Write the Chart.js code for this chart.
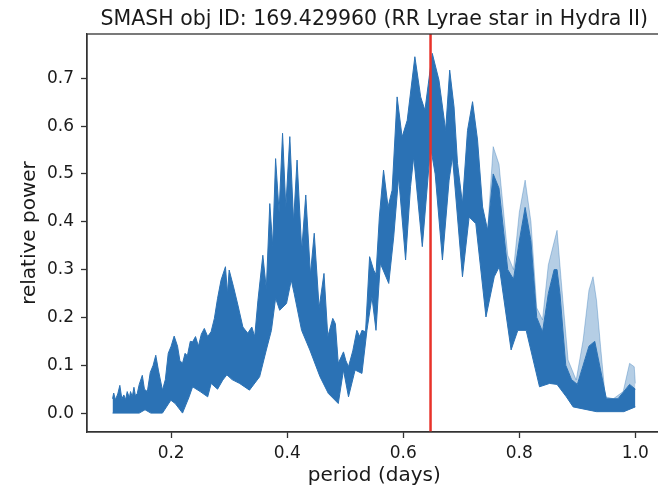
<!DOCTYPE html>
<html>
<head>
<meta charset="utf-8">
<script src="https://cdn.jsdelivr.net/npm/chart.js@4.4.1/dist/chart.umd.min.js"></script>
<style>
  html, body { margin: 0; padding: 0; background: #fff; overflow: hidden; }
  #wrap { width: 662px; height: 492px; }
</style>
</head>
<body>
<div id="wrap"><canvas id="grafico" width="662" height="492"></canvas></div>
<script>
// ===== dados =====
const xTicks = [0.2, 0.4, 0.6, 0.8, 1.0];
const yTicks = [0.0, 0.1, 0.2, 0.3, 0.4, 0.5, 0.6, 0.7];
const periodoMarcado = 0.647;

// envelope superior (faixa escura)
const superiorX = [0.099, 0.101, 0.104, 0.108, 0.1116, 0.1150, 0.1185, 0.1215, 0.1243, 0.1280, 0.1300, 0.1330,
  0.1359, 0.1385, 0.1416, 0.1450, 0.1503, 0.1540, 0.1590, 0.1640, 0.1690, 0.1735, 0.1780, 0.1850,
  0.1900, 0.1950, 0.2000, 0.2052, 0.2110, 0.2150, 0.2196, 0.2240, 0.2280, 0.2330, 0.2370, 0.2420, 0.2470,
  0.2520, 0.2572, 0.2630, 0.2688, 0.2745, 0.2800, 0.2860, 0.2936, 0.2970, 0.3000,
  0.3075, 0.3150, 0.3236, 0.3320, 0.3390, 0.3440, 0.3496, 0.3580, 0.3640, 0.3700, 0.3750, 0.3800, 0.3860,
  0.3920, 0.3976, 0.4045, 0.4110, 0.4170, 0.4250, 0.4320, 0.4400, 0.4466, 0.4550, 0.4634, 0.4700, 0.4785,
  0.4830, 0.4880, 0.4970, 0.5010, 0.5056, 0.5130, 0.5200, 0.5250, 0.5288, 0.5350, 0.5420, 0.5490, 0.5530,
  0.5588, 0.5660, 0.5738, 0.5808, 0.5894, 0.5980, 0.6068, 0.6200, 0.6300, 0.6373, 0.6500, 0.6615, 0.6730,
  0.6800, 0.6875, 0.6935, 0.7020, 0.7107, 0.7194, 0.7280, 0.7367, 0.7454, 0.7550, 0.7650, 0.7800, 0.7900,
  0.8000, 0.8100, 0.8200, 0.8300, 0.8400, 0.8500, 0.8600, 0.8650, 0.8700, 0.8800, 0.8900, 0.9000, 0.9100,
  0.9200, 0.9300, 0.9400, 0.9500, 0.9700, 0.9900, 1.0000];
const superiorY = [0.030, 0.042, 0.028, 0.040, 0.058, 0.030, 0.038, 0.028, 0.045, 0.032, 0.045, 0.034,
  0.054, 0.036, 0.041, 0.060, 0.079, 0.050, 0.045, 0.085, 0.100, 0.121, 0.090, 0.048,
  0.070, 0.125, 0.140, 0.161, 0.140, 0.110, 0.104, 0.125, 0.120, 0.150, 0.149, 0.160, 0.140,
  0.165, 0.177, 0.160, 0.170, 0.198, 0.240, 0.278, 0.306, 0.250, 0.299,
  0.264, 0.226, 0.180, 0.167, 0.180, 0.160, 0.236, 0.330, 0.260, 0.438, 0.350, 0.532, 0.420,
  0.585, 0.430, 0.578, 0.400, 0.529, 0.340, 0.456, 0.290, 0.376, 0.220, 0.292, 0.160, 0.198,
  0.187, 0.104, 0.128, 0.110, 0.097, 0.130, 0.173, 0.160, 0.173, 0.170, 0.327, 0.299, 0.290,
  0.410, 0.508, 0.431, 0.466, 0.661, 0.577, 0.612, 0.745, 0.661, 0.633, 0.752, 0.696, 0.591,
  0.717, 0.640, 0.522, 0.438, 0.591, 0.651, 0.571, 0.431, 0.382, 0.500, 0.470, 0.300, 0.280,
  0.360, 0.430, 0.360, 0.200, 0.170, 0.250, 0.300, 0.300, 0.250, 0.100, 0.070, 0.060, 0.100,
  0.140, 0.150, 0.090, 0.030, 0.030, 0.060, 0.050];

// envelope inferior
const inferiorX = [0.099, 0.1450, 0.1550, 0.1650, 0.1850, 0.1995, 0.2070, 0.2196, 0.2310, 0.2370, 0.2500,
  0.2630, 0.2690, 0.2800, 0.2890, 0.2960, 0.3050, 0.3180, 0.3350, 0.3525, 0.3640, 0.3728, 0.3800,
  0.3870, 0.3988, 0.4070, 0.4120, 0.4248, 0.4390, 0.4565, 0.4709, 0.4880, 0.4970, 0.5056, 0.5170,
  0.5288, 0.5374, 0.5460, 0.5530, 0.5605, 0.5750, 0.5835, 0.5920, 0.6040, 0.6125, 0.6180, 0.6328,
  0.6470, 0.6550, 0.6675, 0.6790, 0.6848, 0.7020, 0.7135, 0.7250, 0.7425, 0.7568, 0.7655, 0.7858,
  0.7974, 0.8118, 0.8348, 0.8520, 0.8650, 0.8810, 0.8927, 0.9330, 0.9800, 1.0000];
const inferiorY = [0.000, 0.000, 0.007, 0.000, 0.000, 0.027, 0.020, 0.000, 0.034, 0.055, 0.045,
  0.034, 0.062, 0.050, 0.069, 0.080, 0.070, 0.062, 0.048, 0.076, 0.132, 0.173, 0.240,
  0.215, 0.229, 0.278, 0.250, 0.173, 0.132, 0.076, 0.041, 0.020, 0.090, 0.034, 0.090,
  0.083, 0.173, 0.243, 0.173, 0.313, 0.271, 0.368, 0.494, 0.320, 0.473, 0.536, 0.348,
  0.557, 0.500, 0.320, 0.487, 0.536, 0.285, 0.410, 0.396, 0.201, 0.285, 0.306, 0.132,
  0.173, 0.173, 0.055, 0.062, 0.060, 0.034, 0.013, 0.003, 0.003, 0.013];

// picos mais claros (linhas esparsas) à direita
const claroX = [0.7454, 0.7550, 0.7650, 0.7800, 0.7900, 0.8000, 0.8100, 0.8200, 0.8300, 0.8400, 0.8500,
  0.8650, 0.8750, 0.8840, 0.8980, 0.9100, 0.9200, 0.9270, 0.9330, 0.9400, 0.9480, 0.9620, 0.9790,
  0.9900, 0.9980, 1.0000];
const claroY = [0.382, 0.557, 0.520, 0.330, 0.300, 0.420, 0.487, 0.400, 0.220, 0.195, 0.310,
  0.382, 0.236, 0.111, 0.069, 0.153, 0.257, 0.285, 0.236, 0.139, 0.034, 0.030, 0.045,
  0.104, 0.097, 0.062];

const azul = "#2b72b5";
const fonte = "'DejaVu Sans', sans-serif";
const corTexto = "#1a1a1a";

const pontos = (xs, ys) => xs.map((x, i) => ({ x: x, y: ys[i] }));

// textos e linha vermelha desenhados por cima
const textosPlugin = {
    id: "textos",
    afterDatasetsDraw(chart) {
        const ctx = chart.ctx;
        const area = chart.chartArea;
        const px = chart.scales.x.getPixelForValue(periodoMarcado);
        ctx.save();
        ctx.beginPath();
        ctx.rect(area.left, area.top, area.right - area.left, area.bottom - area.top);
        ctx.clip();
        ctx.strokeStyle = "#e8322a";
        ctx.lineWidth = 2.5;
        ctx.beginPath();
        ctx.moveTo(px, area.top);
        ctx.lineTo(px, area.bottom);
        ctx.stroke();
        ctx.restore();
    },
    afterDraw(chart) {
        const ctx = chart.ctx;
        const area = chart.chartArea;
        ctx.save();
        ctx.fillStyle = corTexto;
        ctx.font = "20.5px " + fonte;
        ctx.textAlign = "center";
        ctx.textBaseline = "alphabetic";
        ctx.fillText("SMASH obj ID: 169.429960 (RR Lyrae star in Hydra II)", (area.left + area.right) / 2, 25);
        ctx.font = "20px " + fonte;
        ctx.fillText("period (days)", (area.left + area.right) / 2, 481);
        ctx.translate(35, (area.top + area.bottom) / 2);
        ctx.rotate(-Math.PI / 2);
        ctx.fillText("relative power", 0, 0);
        ctx.restore();
    }
};

const ctx = document.getElementById("grafico").getContext("2d");
window.chartPeriodograma = new Chart(ctx, {
    type: "line",
    data: {
        datasets: [
            {
                label: "inferior",
                data: pontos(inferiorX, inferiorY),
                borderColor: azul,
                borderWidth: 1,
                pointRadius: 0,
                fill: false
            },
            {
                label: "superior",
                data: pontos(superiorX, superiorY),
                borderColor: azul,
                borderWidth: 1,
                backgroundColor: azul,
                pointRadius: 0,
                fill: "-1"
            },
            {
                label: "claro",
                data: pontos(claroX, claroY),
                borderColor: "rgba(43, 114, 181, 0.35)",
                borderWidth: 1,
                backgroundColor: "rgba(43, 114, 181, 0.35)",
                pointRadius: 0,
                fill: "-1"
            }
        ]
    },
    options: {
        responsive: false,
        animation: false,
        events: [],
        layout: { padding: { top: 34, left: 0, right: 0, bottom: 0 } },
        plugins: {
            legend: { display: false },
            title: { display: false },
            tooltip: { enabled: false }
        },
        scales: {
            x: {
                type: "linear",
                min: 0.055,
                max: 1.045,
                afterBuildTicks: s => { s.ticks = xTicks.map(v => ({ value: v })); },
                afterFit: s => { s.height = 60; },
                border: { display: true, color: "#333", width: 1.3 },
                grid: { drawOnChartArea: false, drawTicks: true, tickLength: 6, color: "#333", tickWidth: 1.3 },
                ticks: {
                    color: corTexto,
                    font: { family: fonte, size: 17 },
                    padding: 5,
                    maxRotation: 0,
                    callback: v => v.toFixed(1)
                }
            },
            y: {
                type: "linear",
                min: -0.0395,
                max: 0.7925,
                afterBuildTicks: s => { s.ticks = yTicks.map(v => ({ value: v })); },
                afterFit: s => { s.width = 87; },
                border: { display: true, color: "#333", width: 1.3 },
                grid: { drawOnChartArea: false, drawTicks: true, tickLength: 6, color: "#333", tickWidth: 1.3 },
                ticks: {
                    color: corTexto,
                    font: { family: fonte, size: 17 },
                    padding: 7,
                    callback: v => v.toFixed(1)
                }
            }
        }
    },
    plugins: [textosPlugin]
});

// borda superior do eixo (a direita fica fora da janela)
Chart.register({
    id: "bordaTopo",
    afterDraw(chart) {
        const a = chart.chartArea;
        chart.ctx.save();
        chart.ctx.strokeStyle = "#333";
        chart.ctx.lineWidth = 1.3;
        chart.ctx.strokeRect(a.left, a.top, a.right - a.left, a.bottom - a.top);
        chart.ctx.restore();
    }
});
chartPeriodograma.update();
</script>
</body>
</html>
